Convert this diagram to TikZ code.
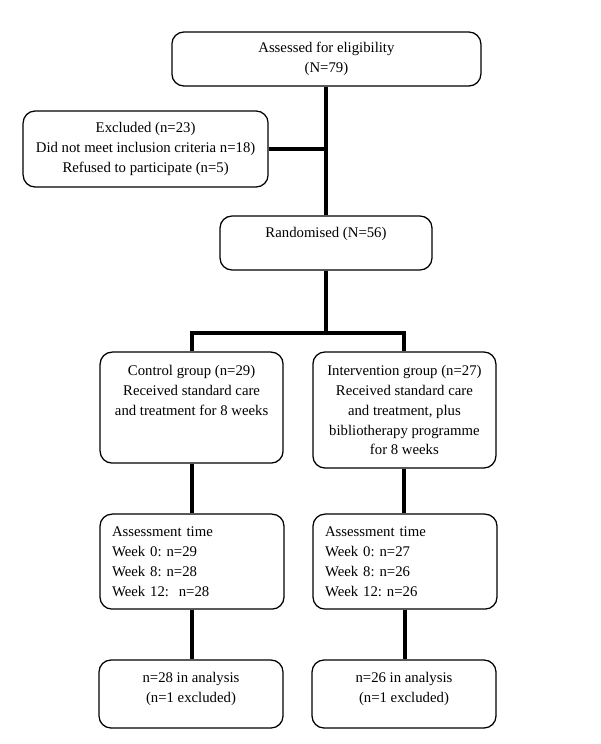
\documentclass[tikz,border=0pt]{standalone}
\usepackage{fontspec}
\setmainfont{Liberation Serif}
\usepackage{tikz}
\usetikzlibrary{positioning,calc}

\begin{document}
\frenchspacing
\begin{tikzpicture}[
    box/.style={rectangle, draw, line width=0.9pt, rounded corners=0.3cm, align=center, font=\fontsize{10.5}{14.2}\selectfont, inner sep=0pt},
    listbox/.style={box, align=left, text width=4.0cm},
    link/.style={line width=2.8pt},
]
\useasboundingbox (0,0) rectangle (15,-18.6);

% Enrolment
\node[box, minimum width=7.725cm, minimum height=1.35cm] (assess) at (8.16,-1.475) {Assessed for eligibility\\(N=79)};
\node[box, minimum width=6.125cm, minimum height=1.9cm] (excl) at (3.64,-3.725) {Excluded (n=23)\\Did not meet inclusion criteria n=18)\\Refused to participate (n=5)};
\node[box, minimum width=5.3cm, minimum height=1.35cm, text depth=0.55cm] (rand) at (8.15,-6.075) {Randomised (N=56)};

% Allocation
\node[box, minimum width=4.575cm, minimum height=2.775cm, text depth=0.85cm] (ctrl) at (4.79,-10.19) {Control group (n=29)\\Received standard care\\and treatment for 8 weeks};
\node[box, minimum width=4.575cm, minimum height=2.9cm] (intv) at (10.11,-10.25) {Intervention group (n=27)\\Received standard care\\and treatment, plus\\bibliotherapy programme\\for 8 weeks};

% Follow-up
\node[listbox, minimum width=4.6cm, minimum height=2.375cm] (ctrlfu) at (4.8,-14.04) {Assessment time\\Week 0: n=29\\Week 8: n=28\\Week 12:~ n=28};
\node[listbox, minimum width=4.6cm, minimum height=2.375cm] (intvfu) at (10.125,-14.04) {Assessment time\\Week 0: n=27\\Week 8: n=26\\Week 12: n=26};

% Analysis
\node[box, minimum width=4.6cm, minimum height=1.7cm, text depth=0.35cm] (ctrlan) at (4.775,-17.35) {n=28 in analysis\\(n=1 excluded)};
\node[box, minimum width=4.6cm, minimum height=1.7cm, text depth=0.35cm] (intvan) at (10.1,-17.35) {n=26 in analysis\\(n=1 excluded)};

% Connectors
\draw[link] (assess.south) -- (assess.south |- rand.north);
\draw[link] (excl.east) -- (excl.east -| assess.south);
\coordinate (split) at (8.15,-8.325);
\draw[link] (rand.south) -- (split);
\draw[link] (ctrl.north) |- (split) -| (intv.north);
\draw[link] (ctrl.south) -- (ctrl.south |- ctrlfu.north);
\draw[link] (intv.south) -- (intv.south |- intvfu.north);
\draw[link] (ctrlfu.south) -- (ctrlfu.south |- ctrlan.north);
\draw[link] (intvfu.south) -- (intvfu.south |- intvan.north);

\end{tikzpicture}
\end{document}
